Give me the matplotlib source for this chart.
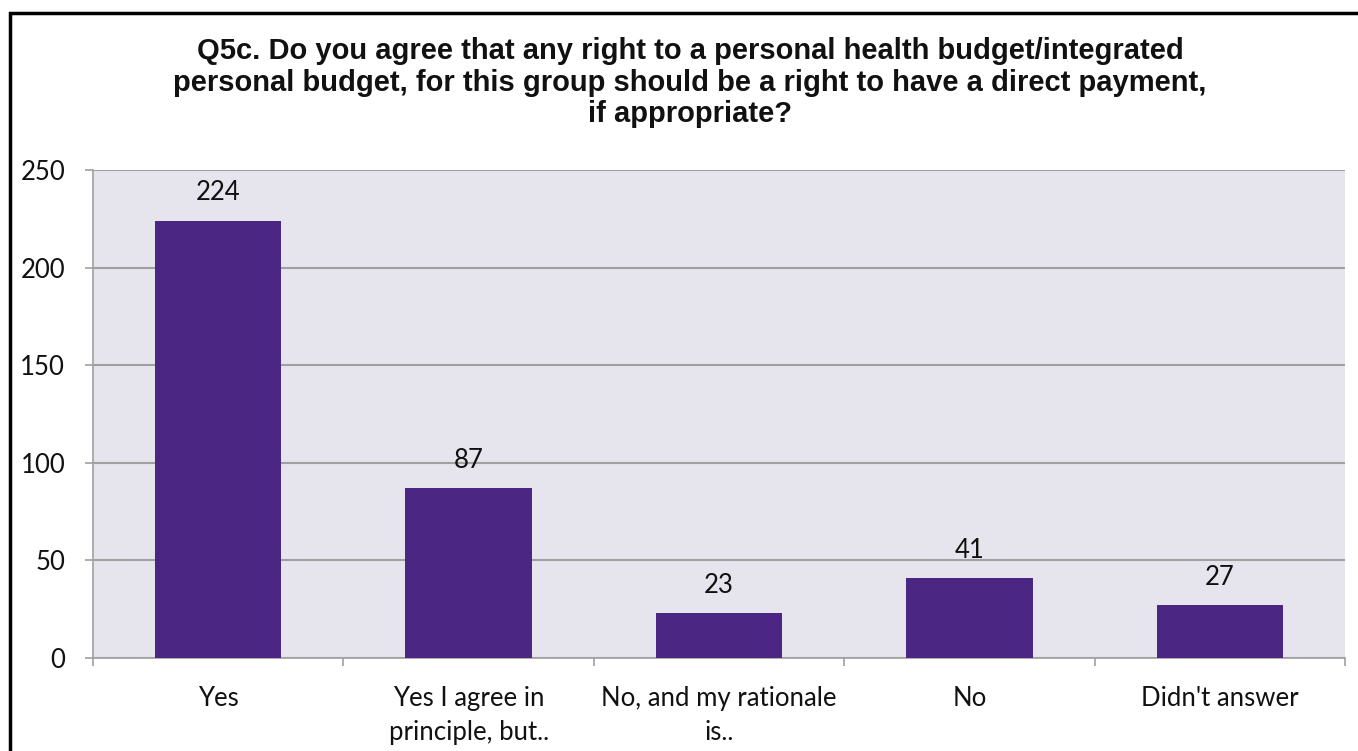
import numpy as np
import matplotlib.pyplot as plt
from matplotlib.patches import Rectangle

# survey responses for Q5c
answers = ['Yes', 'Yes I agree in\nprinciple, but..', 'No, and my rationale\nis..', 'No', "Didn't answer"]
counts = [224, 87, 23, 41, 27]

title_text = ('Q5c. Do you agree that any right to a personal health budget/integrated\n'
              'personal budget, for this group should be a right to have a direct payment,\n'
              'if appropriate?')

fig = plt.figure(figsize=(13.58, 7.51), dpi=100)
ax = fig.add_axes([93 / 1358, 1 - 658 / 751, 1252 / 1358, 488 / 751])

x = np.arange(len(answers))
bars = ax.bar(x, counts, width=0.505, color='#4B2682', zorder=3)

# value labels sit a fixed distance above each bar
for xi, c in zip(x, counts):
    ax.annotate(str(c), (xi, c), xytext=(0, 20), textcoords='offset points',
                ha='center', va='center', fontsize=18.5, family='Lato',
                color='#111111', zorder=4)

ax.set_facecolor('#E6E5EE')
ax.set_xlim(-0.5, len(answers) - 0.5)
ax.set_ylim(0, 250)
ax.set_yticks(np.arange(0, 251, 50))
ax.grid(axis='y', color='#A0A0A0', linewidth=1.5, zorder=1)

ax.set_xticks(x)
ax.set_xticklabels(answers, fontsize=18.5, family='Lato', color='#111111',
                   linespacing=1.45)
ax.set_xticks(np.arange(-0.5, len(answers)), minor=True)
ax.tick_params(axis='x', which='major', length=0, pad=20)
ax.tick_params(axis='x', which='minor', length=6, color='#A0A0A0', width=1.2)
ax.tick_params(axis='y', length=6, color='#A0A0A0', width=1.2, pad=14, labelsize=18.5)
for lab in ax.get_yticklabels():
    lab.set_family('Lato')
    lab.set_color('#111111')

for side in ['top', 'right']:
    ax.spines[side].set_visible(False)
ax.spines['left'].set_color('#A0A0A0')
ax.spines['bottom'].set_color('#A0A0A0')
ax.spines['left'].set_linewidth(1.2)
ax.spines['bottom'].set_linewidth(1.2)

fig.text(690 / 1358, 1 - 37 / 751, title_text, ha='center', va='top', fontsize=21,
         fontweight='bold', family='Liberation Sans', linespacing=1.17, color='#111111')

# frame around the chart
fig.patches.append(Rectangle((10 / 1358, -0.1), 1.2, 1 - 13 / 751 + 0.1,
                             transform=fig.transFigure, fill=False,
                             edgecolor='black', linewidth=2.5))

fig.savefig('out.png', dpi=100)
